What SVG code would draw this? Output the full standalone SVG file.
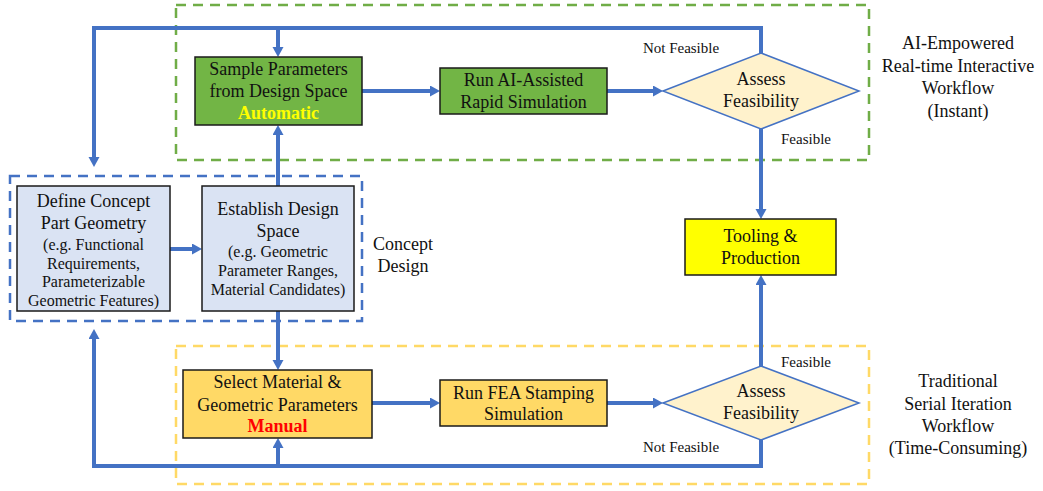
<svg xmlns="http://www.w3.org/2000/svg" width="1043" height="491" viewBox="0 0 1043 491">
<style>
text{font-family:"Liberation Serif","Times New Roman",serif;fill:#111;text-anchor:middle}
.t{font-size:18px}
.s{font-size:16px}
.l{font-size:15px}
.lbl{font-size:18px}
.box{stroke:#1a1a1a;stroke-width:1.5}
.dia{fill:#FFF2CC;stroke:#4472C4;stroke-width:1.5}
.grp{fill:none;stroke-width:2.5;stroke-dasharray:10 7}
.con{fill:none;stroke:#4472C4;stroke-width:4;stroke-linejoin:miter}
</style>
<defs>
<marker id="ah" markerUnits="userSpaceOnUse" markerWidth="12" markerHeight="12" refX="2" refY="5.5" orient="auto">
<path d="M0,0 L10,5.5 L0,11 z" fill="#4472C4"/>
</marker>
</defs>
<rect width="1043" height="491" fill="#ffffff"/>

<g id="groups">
<rect x="176" y="5" width="693" height="155" class="grp" stroke="#70AD47"/>
<rect x="10" y="176" width="352" height="145" class="grp" stroke="#4472C4"/>
<rect x="176" y="346" width="693" height="138" class="grp" stroke="#FFD966"/>
</g>

<g id="connectors">
<path class="con" d="M362,91 H432" marker-end="url(#ah)"/>
<path class="con" d="M607,91 H655" marker-end="url(#ah)"/>
<path class="con" d="M761,53 V28 H94 V159" marker-end="url(#ah)"/>
<path class="con" d="M278,28 V49" marker-end="url(#ah)"/>
<path class="con" d="M761,128 V211" marker-end="url(#ah)"/>
<path class="con" d="M170,249 H194" marker-end="url(#ah)"/>
<path class="con" d="M278,186 V133" marker-end="url(#ah)"/>
<path class="con" d="M278,311 V362" marker-end="url(#ah)"/>
<path class="con" d="M372,403 H432" marker-end="url(#ah)"/>
<path class="con" d="M607,403 H655" marker-end="url(#ah)"/>
<path class="con" d="M761,366 V283" marker-end="url(#ah)"/>
<path class="con" d="M761,440 V466 H94 V337" marker-end="url(#ah)"/>
<path class="con" d="M278,466 V446" marker-end="url(#ah)"/>
</g>

<g id="sample">
<rect x="195" y="57" width="167" height="68" class="box" fill="#72B545"/>
<text class="t" x="278.5" y="75">Sample Parameters</text>
<text class="t" x="278.5" y="97">from Design Space</text>
<text class="t" x="278.5" y="119" style="fill:#FFFF00;font-weight:bold">Automatic</text>
</g>

<g id="run-ai">
<rect x="440" y="68" width="167" height="46" class="box" fill="#72B545"/>
<text class="t" x="523.5" y="86">Run AI-Assisted</text>
<text class="t" x="523.5" y="108">Rapid Simulation</text>
</g>

<g id="assess-ai">
<polygon points="663,91 761,53 859,91 761,129" class="dia"/>
<text class="t" x="761" y="85">Assess</text>
<text class="t" x="761" y="107">Feasibility</text>
</g>

<g id="labels">
<text class="l" x="681" y="53">Not Feasible</text>
<text class="l" x="806" y="144">Feasible</text>
<text class="l" x="806" y="367">Feasible</text>
<text class="l" x="681" y="452">Not Feasible</text>
</g>

<g id="ai-title">
<text class="lbl" x="958" y="49">AI-Empowered</text>
<text class="lbl" x="958" y="72">Real-time Interactive</text>
<text class="lbl" x="958" y="94">Workflow</text>
<text class="lbl" x="958" y="117">(Instant)</text>
</g>

<g id="tooling">
<rect x="685" y="219" width="151" height="56" class="box" fill="#FFFF00"/>
<text class="t" x="760.5" y="242">Tooling &amp;</text>
<text class="t" x="760.5" y="264">Production</text>
</g>

<g id="define">
<rect x="17" y="186" width="153" height="125" class="box" fill="#DAE3F3"/>
<text class="t" x="93.5" y="207">Define Concept</text>
<text class="t" x="93.5" y="229">Part Geometry</text>
<text class="s" x="93.5" y="250">(e.g. Functional</text>
<text class="s" x="93.5" y="269">Requirements,</text>
<text class="s" x="93.5" y="287">Parameterizable</text>
<text class="s" x="93.5" y="306">Geometric Features)</text>
</g>

<g id="establish">
<rect x="202" y="186" width="152" height="125" class="box" fill="#DAE3F3"/>
<text class="t" x="278" y="215">Establish Design</text>
<text class="t" x="278" y="237">Space</text>
<text class="s" x="278" y="257">(e.g. Geometric</text>
<text class="s" x="278" y="276">Parameter Ranges,</text>
<text class="s" x="278" y="295">Material Candidates)</text>
</g>

<g id="concept-title">
<text class="lbl" x="403" y="250">Concept</text>
<text class="lbl" x="403" y="272">Design</text>
</g>

<g id="select">
<rect x="183" y="370" width="189" height="68" class="box" fill="#FFD966"/>
<text class="t" x="277.5" y="388">Select Material &amp;</text>
<text class="t" x="277.5" y="411">Geometric Parameters</text>
<text class="t" x="277.5" y="432" style="fill:#FF0000;font-weight:bold">Manual</text>
</g>

<g id="run-fea">
<rect x="440" y="380" width="167" height="46" class="box" fill="#FFD966"/>
<text class="t" x="523.5" y="399">Run FEA Stamping</text>
<text class="t" x="523.5" y="420">Simulation</text>
</g>

<g id="assess-fea">
<polygon points="663,403 761,366 859,403 761,440" class="dia"/>
<text class="t" x="761" y="397">Assess</text>
<text class="t" x="761" y="419">Feasibility</text>
</g>

<g id="trad-title">
<text class="lbl" x="958" y="387">Traditional</text>
<text class="lbl" x="958" y="410">Serial Iteration</text>
<text class="lbl" x="958" y="432">Workflow</text>
<text class="lbl" x="958" y="454">(Time-Consuming)</text>
</g>
</svg>
